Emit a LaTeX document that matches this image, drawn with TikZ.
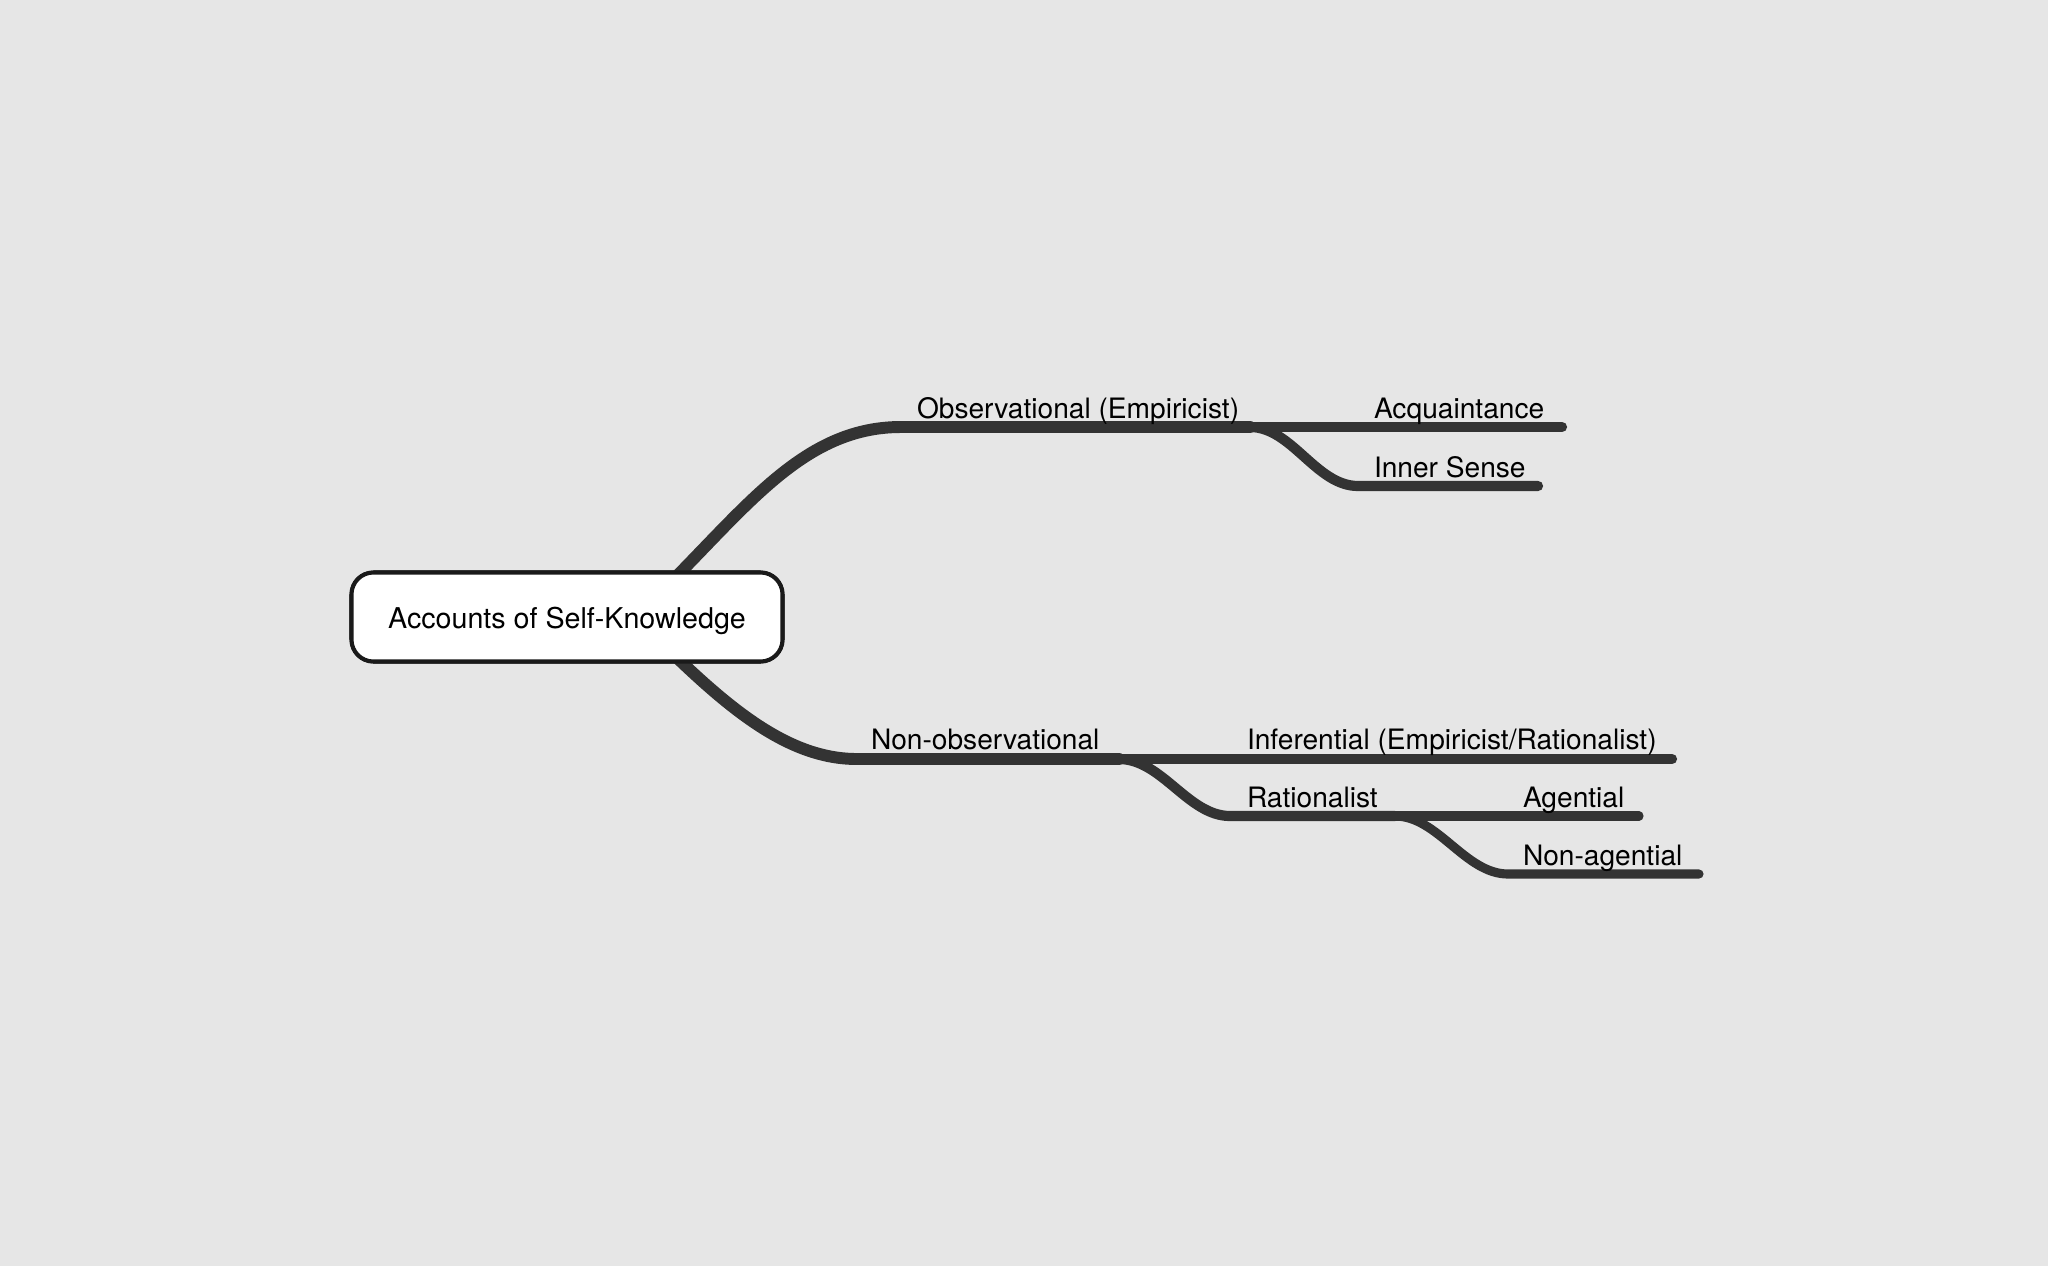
\documentclass[tikz,border=0pt]{standalone}
\usepackage{fontspec}
\setmainfont{TeX Gyre Heros}
\usepackage{xcolor}
\usepackage{tikz}
\usetikzlibrary{calc}
\usetikzlibrary{positioning}
\definecolor{canvas}{HTML}{E6E6E6}
\definecolor{branch}{HTML}{333333}
\definecolor{boxline}{HTML}{1A1A1A}

\begin{document}
\begin{tikzpicture}[x=0.1mm, y=-0.1mm,
  every node/.style={font=\fontsize{8}{9.6}\selectfont, inner sep=0pt, outer sep=0pt},
  rootbox/.style={draw=boxline, line width=1.15pt, fill=white, rounded corners=2.2mm, minimum width=43.1mm, minimum height=8.9mm},
  topic/.style={anchor=base west},
  lvlone/.style={draw=branch, line width=3.4pt, line cap=round},
  lvltwo/.style={draw=branch, line width=2.9pt, line cap=round},
  lvlthree/.style={draw=branch, line width=2.6pt, line cap=round}]

  \fill[canvas] (0,0) rectangle (2048,1266);
  \useasboundingbox (0,0) rectangle (2048,1266);

  % forks and ends of the branches
  \coordinate (obsbend) at (901,427);
  \coordinate (obsfork) at (1250,427);
  \coordinate (acqend) at (1562,427);
  \coordinate (innerbend) at (1358,486);
  \coordinate (innerend) at (1538,486);
  \coordinate (nonobsbend) at (857,759);
  \coordinate (nonobsfork) at (1119,759);
  \coordinate (infend) at (1672,759);
  \coordinate (ratbend) at (1230,816);
  \coordinate (ratfork) at (1395,816);
  \coordinate (agenend) at (1639,816);
  \coordinate (nonagbend) at (1508,874);
  \coordinate (nonagend) at (1699,874);

  \node[rootbox] (root) at (567,617) {};
  \coordinate (rootup) at ($(root.north east)+(-112,10)$);
  \coordinate (rootdown) at ($(root.south east)+(-112,-10)$);

  \draw[lvlone] (rootup) .. controls (752,500) and (808,427) .. (obsbend) -- (obsfork);
  \draw[lvlone] (rootdown) .. controls (735,714) and (792,759) .. (nonobsbend) -- (nonobsfork);

  \draw[lvltwo] (obsfork) -- (acqend);
  \draw[lvltwo] (obsfork) .. controls (1292,427) and (1316,486) .. (innerbend) -- (innerend);
  \draw[lvltwo] (nonobsfork) -- (infend);
  \draw[lvltwo] (nonobsfork) .. controls (1162,759) and (1188,816) .. (ratbend) -- (ratfork);

  \draw[lvlthree] (ratfork) -- (agenend);
  \draw[lvlthree] (ratfork) .. controls (1438,816) and (1465,874) .. (nonagbend) -- (nonagend);

  % box again, over the branch ends
  \node[rootbox] (rootcover) at (root) {};
  \node[font=\fontsize{8.15}{9.8}\selectfont, yshift=-0.35mm] (rootlabel) at (root) {Accounts of Self-Knowledge};

  \node[topic] (obs) at (917,418) {Observational (Empiricist)};
  \node[topic] (acq) at (1374,418) {Acquaintance};
  \node[topic] (inner) at (1374,477) {Inner Sense};
  \node[topic] (nonobs) at (871,749) {Non-observational};
  \node[topic] (inf) at (1247,749) {Inferential (Empiricist/Rationalist)};
  \node[topic] (rat) at (1247,807) {Rationalist};
  \node[topic] (agen) at (1523,807) {Agential};
  \node[topic] (nonag) at (1523,865) {Non-agential};
\end{tikzpicture}
\end{document}
